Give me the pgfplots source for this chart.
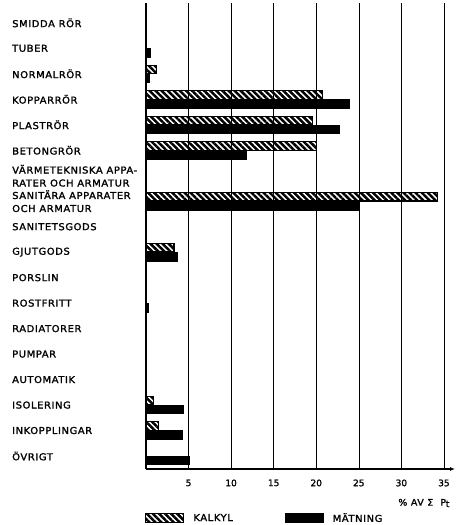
\documentclass[border=0pt]{standalone}
\usepackage{fontspec}
\setmainfont{DejaVu Sans}
\newfontfamily\labelfont{DejaVu Sans}[FakeStretch=1.05,LetterSpace=6,FakeBold=1.6]
\newfontfamily\numfont{DejaVu Sans}[FakeBold=1.4]
\usepackage{pgfplots}
\pgfplotsset{compat=1.18}
\usetikzlibrary{patterns.meta,arrows.meta}
\begin{document}
\begin{tikzpicture}
\useasboundingbox (-146pt,-56pt) rectangle (310pt,469pt);
\begin{axis}[
  scale only axis,
  width=309pt, height=466pt,
  xmin=0, xmax=36.3,
  ymin=-0.51, ymax=17.78,
  xbar, bar width=8.5pt,
  axis x line*=bottom, axis y line*=left,
  axis line style={line width=1.3pt},
  x axis line style={-{Latex[length=5pt,width=4pt]}},
  xtick={5,10,...,35},
  ytick={0,...,17},
  major tick length=0pt,
  xmajorgrids,
  grid style={black, line width=0.6pt},
  /pgf/number format/assume math mode=true,
  xticklabel style={font=\fontsize{9}{10}\numfont, yshift=-7pt},
  yticklabel style={font=\fontsize{9.5}{13}\labelfont, anchor=west, align=left, xshift=-134pt, inner sep=0pt},
  yticklabels={ÖVRIGT, INKOPPLINGAR, ISOLERING, AUTOMATIK, PUMPAR, RADIATORER, ROSTFRITT, PORSLIN, GJUTGODS, SANITETSGODS, {SANITÄRA APPARATER\\OCH ARMATUR}, {VÄRMETEKNISKA APPA-\\RATER OCH ARMATUR}, BETONGRÖR, PLASTRÖR, KOPPARRÖR, NORMALRÖR, TUBER, SMIDDA RÖR},
  xlabel={\% AV Σ\ \ P\kern-0.3pt\raisebox{-1.5pt}{\small t}},
  xlabel style={at={(rel axis cs:1,0)}, anchor=east, yshift=-34pt, xshift=-2pt, font=\fontsize{9}{10}\labelfont},
  legend style={at={(rel axis cs:0,0)}, anchor=north west, yshift=-42pt, xshift=-1pt, draw=none, fill=none, inner sep=0pt, legend columns=2,
    font=\fontsize{9.5}{11}\labelfont,
    /tikz/every odd column/.append style={column sep=7pt},
    /tikz/every even column/.append style={column sep=50pt}},
  legend image code/.code={\draw[#1] (0pt,-4.5pt) rectangle (38pt,4.5pt);},
]
\addplot[bar shift=4.4pt, draw=black, line width=1.2pt, pattern={Lines[angle=-45,distance=4.3pt,line width=2.5pt]}, pattern color=black]
  coordinates {(1.2,15) (20.7,14) (19.6,13) (20.0,12) (34.2,10) (3.3,8) (0.9,2) (1.5,1)};
\addlegendentry{KALKYL}
\addplot[bar shift=-4.6pt, draw=black, fill=black, line width=0.8pt]
  coordinates {(0.5,16) (0.4,15) (23.9,14) (22.7,13) (11.8,12) (24.9,10) (3.7,8) (0.3,6) (4.4,2) (4.3,1) (5.1,0)};
\addlegendentry{MÄTNING}
\end{axis}
\end{tikzpicture}
\end{document}
